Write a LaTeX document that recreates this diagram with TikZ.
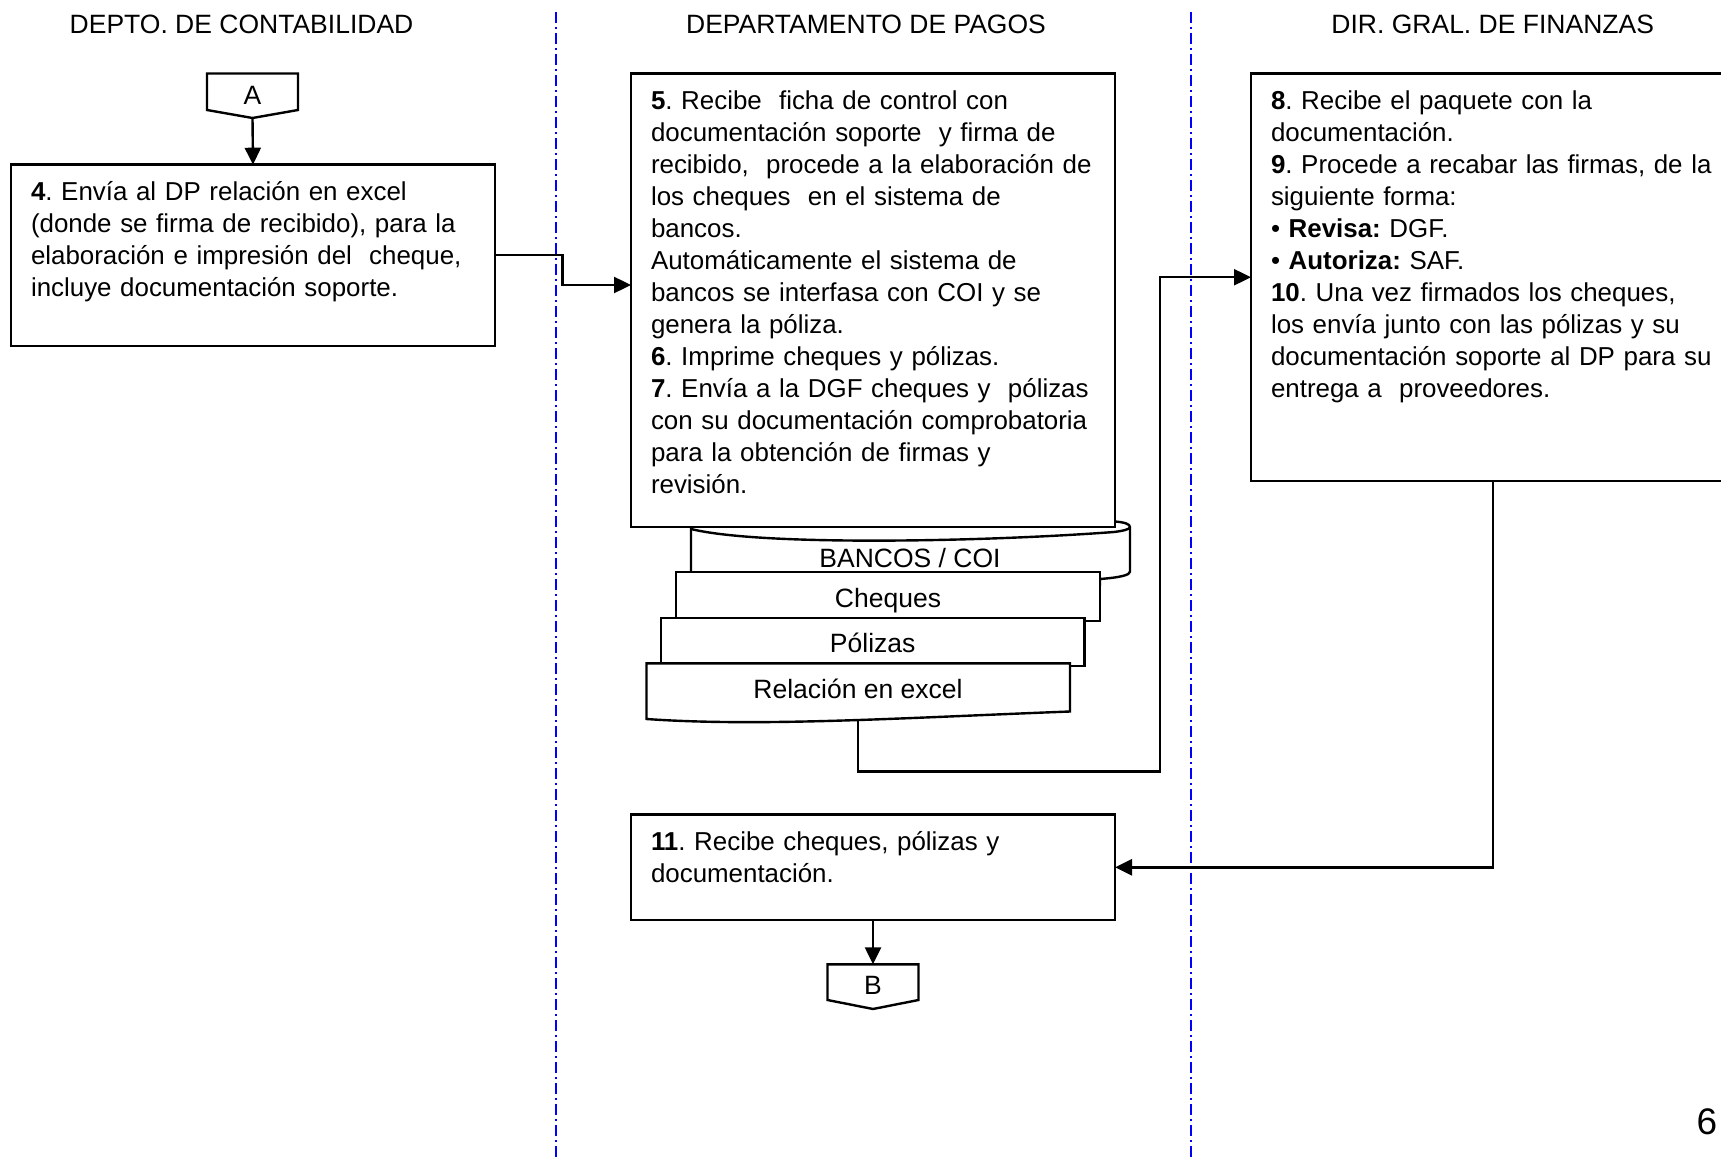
\documentclass[tikz,border=0pt]{standalone}
\usepackage{fontspec}
\setmainfont{Liberation Sans}
\usetikzlibrary{arrows.meta}
\frenchspacing
\begin{document}
\frenchspacing
\begin{tikzpicture}[x=1pt,y=-1pt,
  every node/.style={inner sep=0pt, outer sep=0pt},
  txt/.style={font=\fontsize{26.5}{32}\selectfont\frenchspacing},
  btxt/.style={font=\fontsize{25.9}{32}\selectfont\frenchspacing},
  box/.style={draw, line width=2.4pt, fill=white, rectangle},
  lane/.style={draw=blue, line width=2.4pt, dash pattern=on 11pt off 4pt on 2pt off 4pt},
  conn/.style={line width=2.4pt, -{Triangle[length=17pt,width=16pt]}},
  link/.style={line width=2.4pt},
  body/.style={btxt, anchor=north west, align=left, text width=462pt},
  ]
\clip (0,0) rectangle (1721,1158);
\fill[white] (0,0) rectangle (1721,1158);
% lanes
\draw[lane] (556,12) -- (556,1158);
\draw[lane] (1191,12) -- (1191,1158);
% headers
\node[txt, anchor=base] (h1) at (241.5,34) {DEPTO. DE CONTABILIDAD};
\node[txt, anchor=base] (h2) at (866,34) {DEPARTAMENTO DE PAGOS};
\node[txt, anchor=base] (h3) at (1492.7,34) {DIR. GRAL. DE FINANZAS};
% off-page A
\draw[link, fill=white] (207,73.5) -- (298,73.5) -- (298,110) -- (252.5,118) -- (207,110) -- cycle;
\coordinate (atip) at (252.5,118);
\node[txt] (a) at (252.5,95) {A};
% box 4
\node[box, minimum width=484pt, minimum height=181pt] (b4) at (253,255.2) {};
\node[body] (t4) at ([shift={(20,13.6)}]b4.north west) {\strut\textbf{4}. Envía al DP relación en excel\\
(donde se firma de recibido), para la\\
elaboración e impresión del~ cheque,\\
incluye documentación soporte.};
% drum BANCOS / COI
\draw[link, fill=white] (691,521) -- (691,585) -- (1100,585) -- (1100,579)
  .. controls (1120,577.5) and (1130,575) .. (1130,571.7) -- (1130,527)
  .. controls (1130,524) and (1124,522) .. (1114,521.5) -- cycle;
\draw[link] (691,529) .. controls (760,546) and (980,542) .. (1114,532)
  .. controls (1122,531) and (1130,529.5) .. (1130,527);
\node[txt] (bc) at (910,558) {BANCOS / COI};
% box 5
\node[box, minimum width=484pt, minimum height=453.5pt] (b5) at (873,300.25) {};
\node[body] (t5) at ([shift={(20,13.6)}]b5.north west) {\strut\textbf{5}. Recibe~ ficha de control con\\
documentación soporte~ y firma de\\
recibido,~ procede a la elaboración de\\
los cheques~ en el sistema de\\
bancos.\\
Automáticamente el sistema de\\
bancos se interfasa con COI y se\\
genera la póliza.\\
\textbf{6}. Imprime cheques y pólizas.\\
\textbf{7}. Envía a la DGF cheques y~ pólizas\\
con su documentación comprobatoria\\
para la obtención de firmas y\\
revisión.};
% documents
\node[box, minimum width=424pt, minimum height=49pt] (ch) at (888,596.5) {};
\node[txt] (cht) at (888,600.5) {Cheques};
\node[box, minimum width=423.4pt, minimum height=48pt] (po) at (872.7,642) {};
\node[txt] (pot) at (872.7,643) {Pólizas};
\draw[link, fill=white] (646.5,663.3) -- (1070,663.3) -- (1070,711.5)
  .. controls (900,718) and (760,727) .. (646.5,719) -- cycle;
\node[txt] (relt) at (858,689) {Relación en excel};
\coordinate (relbot) at (858,719);
% box 8
\node[box, minimum width=484pt, minimum height=407.5pt] (b8) at (1493,277.25) {};
\node[body] (t8) at ([shift={(20,13.6)}]b8.north west) {\strut\textbf{8}. Recibe el paquete con la\\
documentación.\\
\textbf{9}. Procede a recabar las firmas, de la\\
siguiente forma:\\
• \textbf{Revisa:} DGF.\\
• \textbf{Autoriza:} SAF.\\
\textbf{10}. Una vez firmados los cheques,\\
los envía junto con las pólizas y su\\
documentación soporte al DP para su\\
entrega a~ proveedores.};
% box 11
\node[box, minimum width=484pt, minimum height=105.4pt] (b11) at (873,867.3) {};
\node[body] (t11) at ([shift={(20,13.6)}]b11.north west) {\strut\textbf{11}. Recibe cheques, pólizas y\\
documentación.};
% off-page B
\draw[link, fill=white] (827.5,964.3) -- (918.5,964.3) -- (918.5,1000) -- (873,1009) -- (827.5,1000) -- cycle;
\coordinate (btop) at (873,964.3);
\node[txt] (b) at (873,985) {B};
% page number
\node[font=\fontsize{37}{40}\selectfont] (pg) at (1707,1121.7) {6};
% connectors
\coordinate (j1) at (562.3,285);
\coordinate (j2) at (1160,771.6);
\draw[conn] (atip) -- (b4.north);
\draw[conn] (b4.east) -| (j1) -- (j1 -| b5.west);
\draw[conn] (relbot) |- (j2) |- (b8.west);
\draw[conn] (b8.south) |- (b11.east);
\draw[conn] (b11.south) -- (btop);
\end{tikzpicture}
\end{document}
